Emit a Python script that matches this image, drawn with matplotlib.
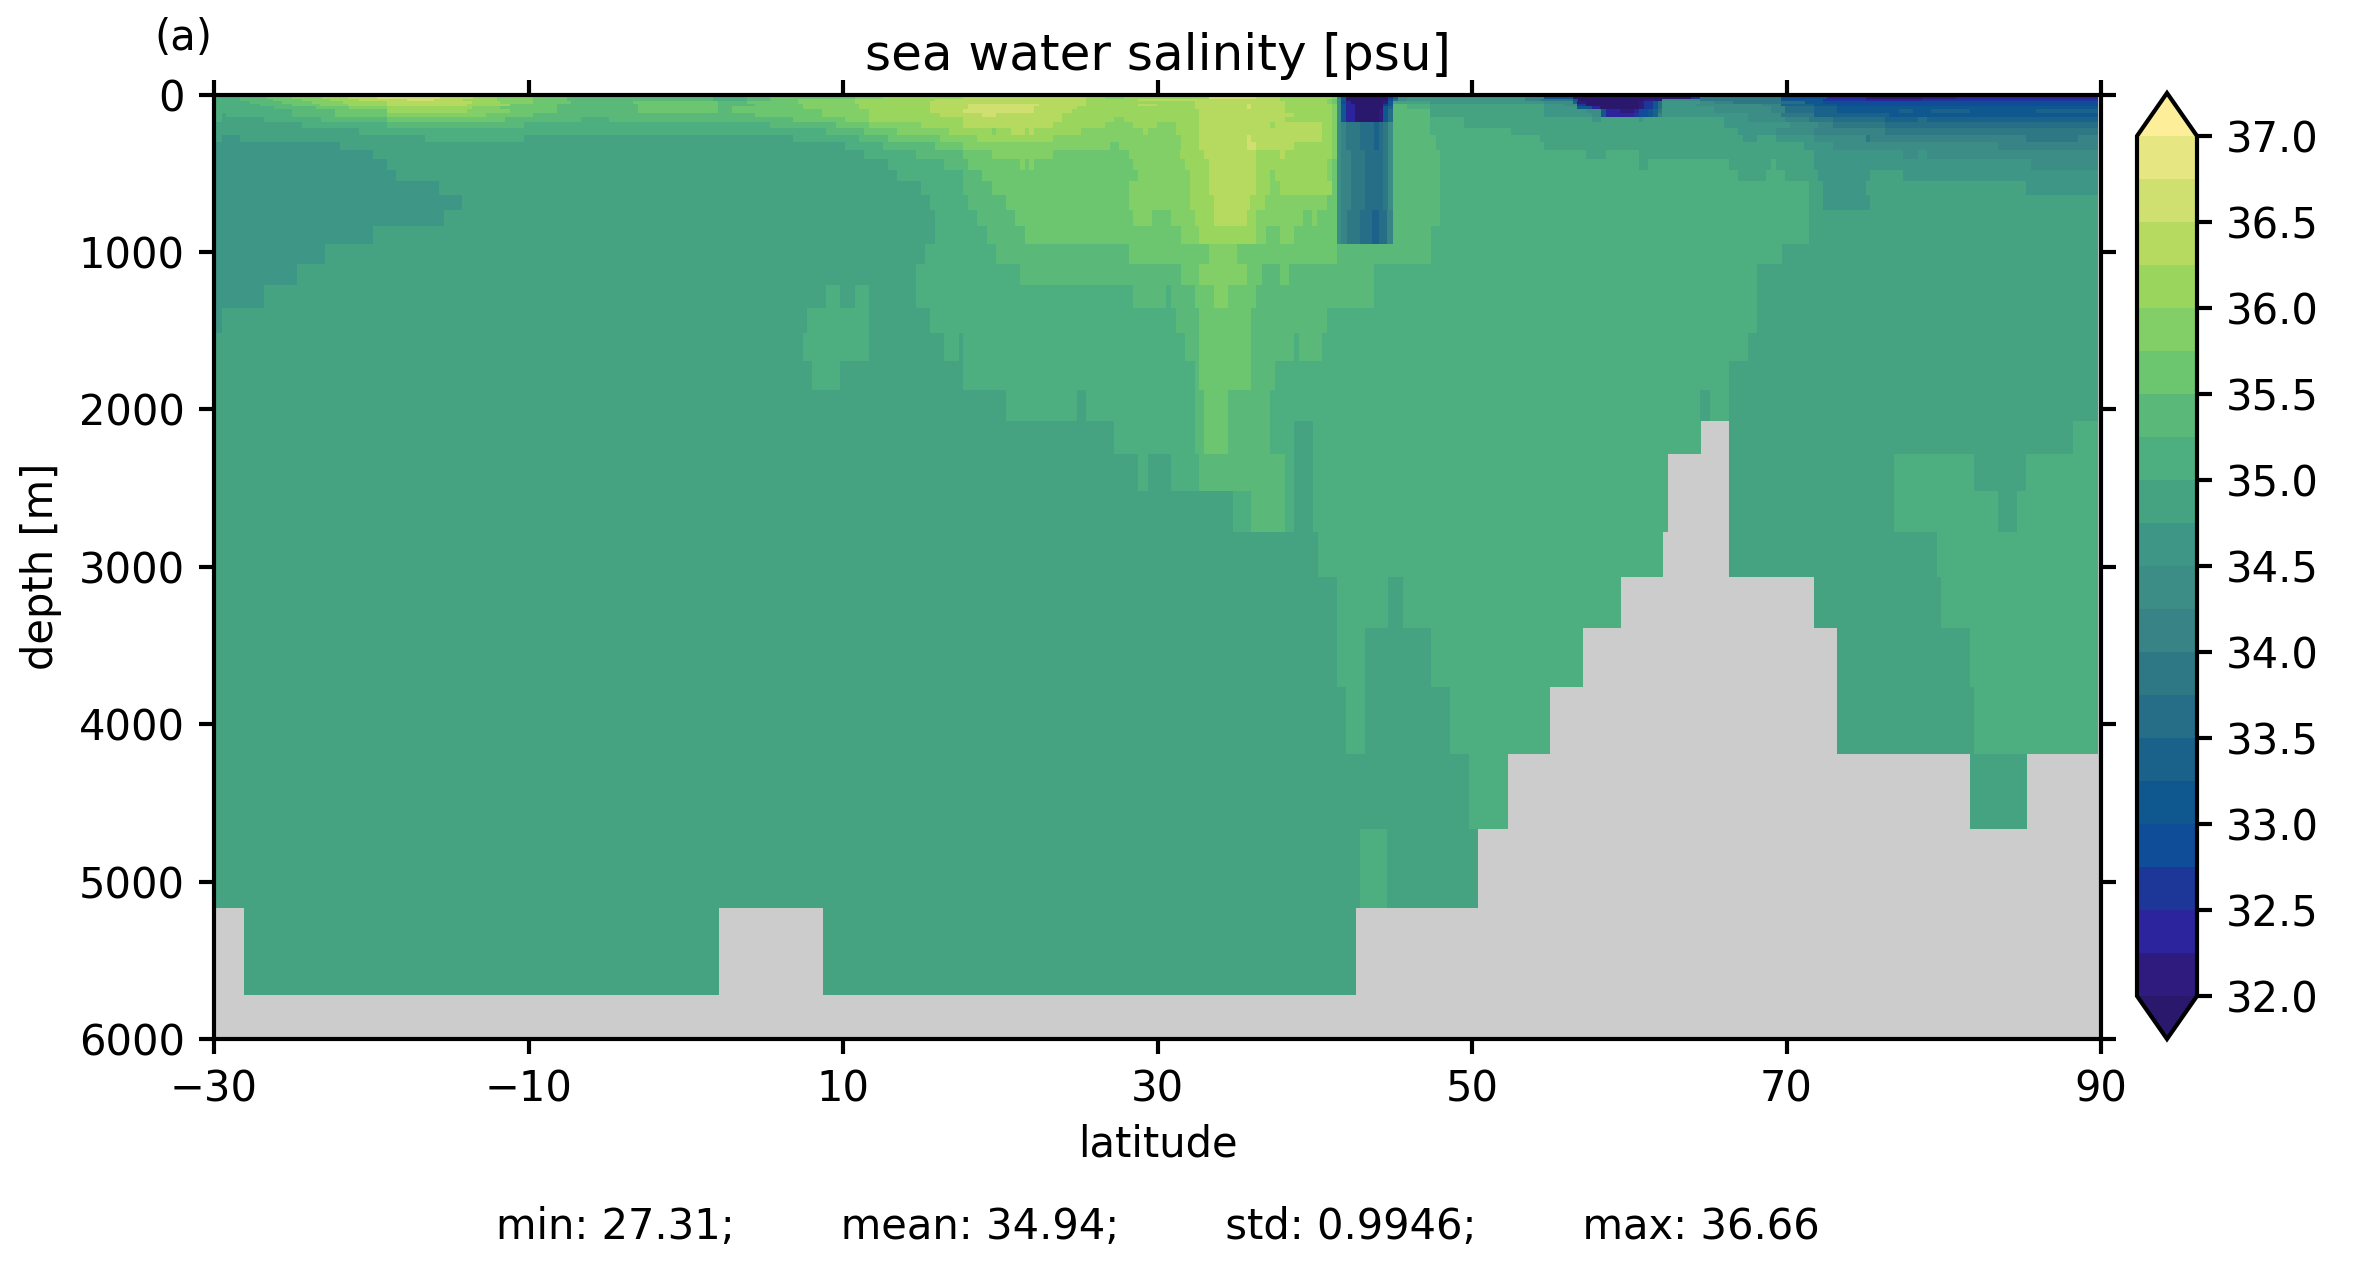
import numpy as np
import matplotlib
matplotlib.use('Agg')
import matplotlib.pyplot as plt
from matplotlib.colors import ListedColormap, BoundaryNorm

nan = float('nan')

# salinity classes of the colour bar, 0.25 psu wide
sal_levels = [32.0, 32.25, 32.5, 32.75, 33.0, 33.25, 33.5, 33.75, 34.0, 34.25, 34.5,
              34.75, 35.0, 35.25, 35.5, 35.75, 36.0, 36.25, 36.5, 36.75, 37.0]
sal_ticks = [32.0, 32.5, 33.0, 33.5, 34.0, 34.5, 35.0, 35.5, 36.0, 36.5, 37.0]
sal_colors = ['#2e1b7d', '#2b249c', '#1c3798', '#0f4d98', '#0f588f', '#1b628b',
              '#266d87', '#2e7886', '#388385', '#3c8d85', '#3e9686', '#45a382',
              '#4daf7f', '#5ab879', '#6cc670', '#81cf66', '#9ad65e', '#b6da60',
              '#d0e070', '#e6e682']
under_color = '#2a186c'
over_color = '#fdee99'
land_color = '#cccccc'

lat_ticks = [-30, -10, 10, 30, 50, 70, 90]
depth_ticks = [0, 1000, 2000, 3000, 4000, 5000, 6000]

# depth levels [m], edges of the rows below
depth_edges = [0, 26, 43, 60, 73, 90, 115, 143, 175, 211, 257, 302, 352, 410, 480, 549, 638,
               734, 833, 947, 1074, 1210, 1356, 1513, 1693, 1877, 2073, 2283, 2518, 2778,
               3064, 3388, 3763, 4188, 4665, 5165, 5722, 6000]

# fresh column near 43N, (latitude where the run ends, salinity)
col_top = [(41.66, 34.3), (41.96, 33.0), (42.55, 32.4), (43.51, 31.8), (44.08, 31.6),
           (44.36, 32.2), (44.67, 33.0), (44.95, 33.5)]
col_upper = [(41.66, 34.4), (41.96, 34.1), (42.89, 33.9), (43.76, 33.6), (44.08, 33.4),
             (44.36, 33.6), (44.67, 33.9), (44.95, 34.4)]
col_mid = [(41.66, 34.4), (42.3, 34.1), (43.19, 33.9), (44.36, 33.6), (44.67, 33.9), (44.95, 34.4)]
col_lower = [(41.66, 34.4), (42.04, 34.1), (42.85, 33.9), (43.67, 33.6), (44.06, 33.4),
             (44.57, 33.6), (44.95, 34.1)]

# each row: runs of (latitude where the run ends, salinity), nan = land
surface_rows = [
    [(-28.34, 35.1), (-26.65, 35.4), (-25.06, 35.6), (-23.15, 35.9), (-21.45, 36.1), (-19.65, 36.4),
     (-15.63, 36.6), (-13.5, 36.4), (-12.02, 36.1), (-9.69, 35.9), (-7.57, 35.6), (1.75, 35.4),
     (3.87, 35.1), (5.36, 35.4), (10.76, 35.6), (12.56, 35.9), (17.65, 36.1), (25.45, 36.4),
     (26.66, 36.1), (27.87, 35.9), (33.27, 36.1), (36.26, 36.6), (37.78, 36.4), (41.09, 36.1),
     (41.39, 35.9), (41.66, 34.1), (41.96, 33.1), (44.67, 31.5), (44.95, 32.6), (45.27, 33.4),
     (45.84, 34.3), (53.36, 34.6), (54.57, 34.1), (56.44, 33.1), (63.92, 31.5), (64.49, 32.6),
     (69.64, 33.9), (72.55, 32.9), (75.05, 32.4), (78.6, 31.9), (80.81, 32.2), (89.82, 32.4), (90, nan)],
    [(-28.34, 35.1), (-26.22, 35.4), (-24.42, 35.6), (-22.62, 35.9), (-20.78, 36.1), (-17.75, 36.4),
     (-16.01, 36.6), (-14.14, 36.4), (-12.02, 36.1), (-9.69, 35.9), (-7.57, 35.6), (1.75, 35.4),
     (3.87, 35.1), (5.44, 35.4), (7.16, 35.6), (10.76, 35.9), (15.85, 36.1), (25.45, 36.4),
     (28.78, 36.1), (37.78, 36.4), (40.79, 36.1), (41.09, 35.9), (41.39, 35.6), (41.66, 34.4),
     (41.96, 33.1), (44.67, 31.5), (44.95, 32.9), (45.27, 33.6), (45.84, 34.4), (53.36, 34.6),
     (54.4, 34.1), (56.44, 33.9), (56.74, 33.0), (60.89, 31.5), (62.06, 32.2), (64.49, 34.3),
     (69.64, 33.9), (72.33, 33.1), (75.05, 32.6), (78.6, 32.3), (89.82, 32.6), (90, nan)],
    [(-27.71, 35.1), (-25.69, 35.4), (-23.79, 35.6), (-21.77, 35.9), (-19.02, 36.1), (-13.61, 36.4),
     (-11.81, 36.1), (-9.69, 35.9), (-7.3, 35.6), (-3.33, 35.4), (2.07, 35.6), (3.87, 35.4),
     (7.16, 35.6), (10.76, 35.9), (15.53, 36.1), (25.45, 36.4), (32.38, 36.1), (38.1, 36.4),
     (40.79, 36.1), (41.09, 35.9), (41.39, 35.6), (41.66, 34.4), (41.96, 32.9), (42.3, 32.4),
     (44.36, 31.5), (44.67, 32.2), (44.95, 33.1), (47.36, 34.9), (54.57, 34.6), (56.44, 34.3),
     (56.69, 33.4), (57.28, 32.2), (60.64, 31.5), (60.95, 32.1), (61.53, 32.6), (61.84, 33.1),
     (62.06, 33.6), (64.49, 34.6), (65.38, 34.3), (66.6, 34.1), (69.64, 33.9), (71.17, 33.6),
     (72.33, 33.1), (89.82, 32.9), (90, nan)],
    [(-27.07, 35.1), (-25.06, 35.4), (-23.26, 35.6), (-21.45, 35.9), (-19.02, 36.1), (-13.93, 36.4),
     (-11.17, 36.1), (-8.21, 35.6), (-3.06, 35.4), (2.07, 35.6), (4.4, 35.4), (7.48, 35.6),
     (11.04, 35.9), (15.53, 36.1), (17.95, 36.4), (22.46, 36.6), (25.45, 36.4), (28.78, 36.1),
     (29.96, 36.4), (32.38, 36.1), (35.69, 36.4), (35.94, 36.6), (38.1, 36.4), (41.09, 36.1),
     (41.39, 35.9), (41.66, 34.3), (41.96, 33.0), (42.55, 32.4), (44.36, 31.5), (44.67, 32.6),
     (44.95, 33.1), (45.84, 35.4), (47.36, 35.1), (54.57, 34.9), (55.85, 34.6), (56.69, 34.3),
     (57.28, 32.6), (60.64, 31.5), (60.95, 32.1), (61.53, 32.6), (61.84, 33.1), (62.06, 33.6),
     (64.24, 34.6), (66.02, 34.4), (68.46, 34.3), (69.64, 34.1), (71.74, 33.4), (73.23, 33.1),
     (89.82, 32.9), (90, nan)],
    [(-26.18, 35.1), (-23.51, 35.4), (-21.41, 35.6), (-19.02, 35.9), (-13.61, 36.1), (-11.81, 35.9),
     (-8.21, 35.6), (-3.06, 35.4), (2.07, 35.6), (2.92, 35.4), (7.48, 35.6), (11.04, 35.9),
     (15.53, 36.1), (17.95, 36.4), (22.14, 36.6), (24.86, 36.4), (32.38, 36.1), (35.69, 36.4),
     (35.94, 36.6), (38.1, 36.4), (41.09, 36.1), (41.39, 35.9), (41.66, 34.3), (41.96, 33.0),
     (42.55, 32.4), (42.91, 31.8), (44.36, 31.6), (44.67, 33.0), (44.95, 33.3), (45.84, 35.4),
     (47.36, 35.1), (54.57, 34.9), (56.69, 34.6), (57.6, 33.0), (58.15, 32.3), (60.64, 31.5),
     (60.95, 32.1), (61.53, 32.6), (61.84, 33.1), (62.06, 33.6), (65.38, 34.6), (68.46, 34.4),
     (69.03, 34.3), (69.9, 34.1), (71.74, 33.6), (73.23, 33.4), (89.82, 33.1), (90, nan)],
    [(-25.06, 35.1), (-22.3, 35.4), (-18.97, 35.6), (-13.93, 36.1), (-11.17, 35.9), (-8.21, 35.6),
     (-3.06, 35.4), (2.07, 35.6), (2.92, 35.4), (8.64, 35.6), (11.67, 35.9), (15.53, 36.1),
     (17.65, 36.4), (22.14, 36.6), (24.54, 36.4), (32.66, 36.1), (38.1, 36.4), (41.09, 36.1),
     (41.39, 35.9)] + col_top +
    [(47.36, 35.4), (54.57, 34.9), (57.28, 34.6), (58.2, 34.3), (58.51, 33.1), (59.41, 32.4),
     (60.3, 32.1), (60.64, 32.4), (61.2, 32.8), (61.53, 33.1), (61.84, 33.4), (62.06, 33.9),
     (65.38, 34.6), (68.46, 34.4), (69.03, 34.3), (69.9, 34.1), (71.74, 33.6), (73.23, 33.4),
     (77.17, 33.1), (78.02, 33.4), (79.22, 33.1), (81.66, 33.4), (85.86, 33.1), (89.82, 33.4), (90, nan)],
    [(-29.47, 35.1), (-29.23, 34.9), (-25.06, 35.1), (-22.3, 35.4), (-18.97, 35.6), (-12.7, 35.9),
     (-9.69, 35.6), (4.4, 35.4), (8.64, 35.6), (11.67, 35.9), (16.17, 36.1), (18.84, 36.4),
     (19.73, 36.6), (23.95, 36.4), (32.66, 36.1), (38.67, 36.4), (41.09, 36.1), (41.39, 35.9)] + col_top +
    [(47.36, 35.4), (54.57, 34.9), (57.6, 34.6), (58.2, 34.3), (58.51, 33.1), (59.41, 32.4),
     (60.3, 32.3), (60.64, 32.6), (61.2, 32.8), (61.53, 33.1), (61.84, 33.4), (62.06, 34.1),
     (67.57, 34.6), (69.03, 34.4), (69.64, 34.3), (71.74, 33.9), (76.53, 33.4), (89.82, 33.1), (90, nan)],
    [(-29.47, 35.1), (-26.82, 34.9), (-23.19, 35.1), (-18.97, 35.4), (-11.49, 35.6), (-6.66, 35.4),
     (-4.88, 35.1), (6.82, 35.4), (10.13, 35.6), (11.67, 35.9), (17.65, 36.1), (23.95, 36.4),
     (27.23, 36.1), (27.87, 35.9), (32.66, 36.1), (38.1, 36.4), (41.09, 36.1), (41.39, 35.9)] + col_top +
    [(47.36, 35.4), (49.48, 35.1), (57.6, 34.9), (58.2, 34.6), (60.64, 34.9), (60.89, 34.6),
     (66.02, 34.9), (67.57, 34.6), (69.9, 34.4), (71.45, 34.1), (72.97, 33.9), (76.26, 33.6),
     (78.38, 33.4), (78.95, 33.6), (89.82, 33.4), (90, nan)],
]

thermocline_rows = [
    [(-24.42, 34.9), (-18.97, 35.1), (-10.28, 35.4), (5.36, 35.1), (9.55, 35.4), (11.67, 35.6),
     (14.96, 35.9), (17.65, 36.1), (23.37, 36.4), (26.66, 36.1), (28.46, 35.9), (29.96, 36.1),
     (31.17, 35.9), (32.66, 36.1), (37.15, 36.4), (37.47, 36.1), (40.48, 36.4), (41.09, 36.1),
     (41.39, 35.9)] + col_upper +
    [(47.36, 35.4), (49.48, 35.1), (66.02, 34.9), (70.22, 34.6), (72.02, 34.4), (72.97, 34.1),
     (76.26, 33.9), (89.82, 33.6), (90, nan)],
    [(-20.78, 34.9), (8.92, 35.1), (11.33, 35.4), (13.41, 35.6), (16.76, 35.9), (19.47, 36.1),
     (19.73, 35.9), (20.68, 36.1), (21.57, 36.4), (21.85, 36.1), (22.14, 36.4), (25.11, 36.1),
     (29.05, 35.9), (29.41, 36.1), (31.17, 35.9), (32.66, 36.1), (40.48, 36.4), (41.09, 36.1),
     (41.39, 35.9)] + col_upper +
    [(47.36, 35.4), (52.45, 35.1), (66.93, 34.9), (69.33, 34.6), (71.74, 34.4), (76.26, 34.1),
     (89.82, 33.9), (90, nan)],
    [(-29.47, 34.9), (-28.34, 34.6), (-16.58, 34.9), (-10.28, 35.1), (6.82, 34.9), (11.04, 35.1),
     (12.86, 35.4), (16.17, 35.6), (18.5, 35.9), (23.37, 36.1), (31.47, 35.9), (32.66, 36.1),
     (35.69, 36.4), (35.94, 36.6), (40.48, 36.4), (41.09, 36.1), (41.39, 35.9)] + col_upper +
    [(47.68, 35.4), (54.32, 35.1), (67.25, 34.9), (68.12, 34.6), (69.33, 34.9), (71.74, 34.6),
     (75.05, 34.4), (75.3, 33.9), (85.22, 34.1), (88.55, 33.9), (89.82, 34.1), (90, nan)],
    [(-21.98, 34.6), (10.13, 34.9), (12.56, 35.1), (15.85, 35.4), (17.65, 35.6), (26.98, 35.9),
     (27.55, 35.6), (31.47, 35.9), (32.66, 36.1), (35.69, 36.4), (36.26, 36.6), (38.67, 36.4),
     (41.09, 36.1), (41.39, 35.9)] + col_upper +
    [(47.68, 35.4), (54.57, 35.1), (71.1, 34.9), (72.97, 34.6), (83.46, 34.4), (89.82, 34.1), (90, nan)],
    [(-19.86, 34.6), (11.33, 34.9), (14.64, 35.1), (17.65, 35.4), (19.47, 35.6), (23.37, 35.9),
     (28.18, 35.6), (31.43, 35.9), (32.97, 36.1), (36.26, 36.4), (37.78, 36.1), (38.1, 36.4),
     (41.09, 36.1), (41.39, 35.9)] + col_mid +
    [(47.96, 35.4), (57.28, 35.1), (58.51, 34.9), (60.64, 35.1), (71.74, 34.9), (77.42, 34.6),
     (78.38, 34.4), (78.95, 34.6), (89.82, 34.4), (90, nan)],
    [(-18.97, 34.6), (12.86, 34.9), (16.42, 35.1), (17.95, 35.4), (21.25, 35.6), (21.57, 35.9),
     (21.85, 35.6), (22.14, 35.9), (28.46, 35.6), (31.74, 35.9), (33.27, 36.1), (36.26, 36.4),
     (40.79, 36.1), (41.09, 35.9), (41.39, 35.6)] + col_mid +
    [(47.96, 35.4), (60.64, 35.1), (61.2, 34.9), (66.34, 35.1), (69.03, 34.9), (69.33, 35.1),
     (71.74, 34.9), (85.52, 34.6), (89.82, 34.4), (90, nan)],
    [(-18.42, 34.6), (13.41, 34.9), (17.65, 35.1), (18.84, 35.4), (28.78, 35.6), (32.06, 35.9),
     (33.27, 36.1), (36.26, 36.4), (37.15, 36.1), (37.47, 35.9), (40.79, 36.1), (41.09, 35.9),
     (41.39, 35.6)] + col_mid +
    [(47.96, 35.4), (66.93, 35.1), (68.69, 34.9), (69.9, 35.1), (71.99, 34.9), (75.3, 34.6),
     (77.42, 34.9), (89.82, 34.6), (90, nan)],
    [(-15.69, 34.6), (14.96, 34.9), (17.65, 35.1), (19.47, 35.4), (28.18, 35.6), (32.06, 35.9),
     (33.27, 36.1), (36.26, 36.4), (37.15, 36.1), (37.78, 35.9), (41.09, 36.1), (41.39, 35.6)] + col_mid +
    [(47.96, 35.4), (71.45, 35.1), (72.33, 34.9), (75.05, 34.6), (85.22, 34.9), (89.82, 34.6), (90, nan)],
    [(-14.21, 34.6), (15.54, 34.9), (17.94, 35.1), (20.37, 35.4), (28.19, 35.6), (32.05, 35.9),
     (33.61, 36.1), (35.88, 36.4), (36.85, 36.1), (40.75, 35.9), (41.39, 35.6)] + col_mid +
    [(47.95, 35.4), (71.44, 35.1), (72.33, 34.9), (75.3, 34.6), (89.82, 34.9), (90, nan)],
    [(-15.38, 34.6), (15.87, 34.9), (18.53, 35.1), (20.92, 35.4), (28.45, 35.6), (29.65, 35.9),
     (30.85, 35.6), (32.37, 35.9), (33.61, 36.1), (35.68, 36.4), (36.27, 36.1), (39.25, 35.9),
     (39.84, 35.6), (40.16, 35.9), (41.39, 35.6)] + col_lower +
    [(47.95, 35.4), (71.44, 35.1), (89.82, 34.9), (90, nan)],
    [(-19.89, 34.6), (15.87, 34.9), (19.17, 35.1), (21.6, 35.4), (31.5, 35.6), (32.63, 35.9),
     (36.27, 36.1), (36.89, 35.9), (37.79, 35.6), (38.7, 35.9), (41.39, 35.6)] + col_lower +
    [(47.4, 35.4), (71.44, 35.1), (89.82, 34.9), (90, nan)],
]

deep_rows = [
    [(-22.94, 34.6), (15.22, 34.9), (19.73, 35.1), (28.19, 35.4), (33.28, 35.6), (35.07, 35.9),
     (41.43, 35.6), (47.4, 35.4), (69.69, 35.1), (89.82, 34.9), (90, nan)],
    [(-24.73, 34.6), (14.63, 34.9), (21.28, 35.1), (31.5, 35.4), (32.63, 35.6), (35.68, 35.9),
     (36.62, 35.6), (37.79, 35.4), (38.34, 35.6), (43.76, 35.4), (68.13, 35.1), (89.82, 34.9), (90, nan)],
    [(-26.83, 34.6), (8.92, 34.9), (9.81, 35.1), (10.77, 34.9), (11.66, 35.1), (14.65, 34.9),
     (28.45, 35.1), (30.53, 35.4), (30.85, 35.1), (32.37, 35.4), (33.58, 35.6), (34.48, 35.9),
     (36.27, 35.6), (43.76, 35.4), (68.13, 35.1), (89.82, 34.9), (90, nan)],
    [(-29.5, 34.6), (7.72, 34.9), (11.66, 35.1), (15.54, 34.9), (31.18, 35.1), (32.64, 35.4),
     (35.95, 35.6), (40.78, 35.4), (68.13, 35.1), (89.82, 34.9), (90, nan)],
    [(7.46, 34.9), (11.66, 35.1), (16.43, 34.9), (17.38, 35.1), (17.63, 34.9), (31.75, 35.1),
     (32.64, 35.4), (35.95, 35.6), (38.68, 35.4), (39.0, 35.1), (40.45, 35.4), (67.55, 35.1),
     (89.82, 34.9), (90, nan)],
    [(8.03, 34.9), (9.81, 35.1), (17.63, 34.9), (32.39, 35.1), (32.64, 35.4), (35.95, 35.6),
     (37.47, 35.4), (66.32, 35.1), (89.82, 34.9), (90, nan)],
    [(20.37, 34.9), (24.88, 35.1), (25.46, 34.9), (32.39, 35.1), (32.96, 35.4), (34.49, 35.6),
     (37.15, 35.4), (64.5, 35.1), (65.14, 34.9), (66.32, 35.1), (89.82, 34.9), (90, nan)],
    [(27.24, 34.9), (32.37, 35.1), (32.96, 35.4), (34.48, 35.6), (37.14, 35.4), (38.66, 35.1),
     (39.88, 34.9), (64.55, 35.1), (66.32, nan), (88.25, 34.9), (89.82, 35.1), (90, nan)],
    [(28.74, 34.9), (29.38, 35.1), (30.85, 34.9), (32.62, 35.1), (38.1, 35.4), (38.66, 35.1),
     (39.88, 34.9), (62.44, 35.1), (66.32, nan), (76.83, 34.9), (81.93, 35.1), (85.22, 34.9),
     (89.82, 35.1), (90, nan)],
    [(34.82, 34.9), (35.96, 35.1), (38.1, 35.4), (38.66, 35.1), (39.88, 34.9), (62.44, 35.1),
     (66.32, nan), (76.83, 34.9), (83.45, 35.1), (84.67, 34.9), (89.82, 35.1), (90, nan)],
    [(40.2, 34.9), (62.15, 35.1), (66.32, nan), (79.57, 34.9), (89.82, 35.1), (90, nan)],
    [(41.4, 34.9), (44.64, 35.1), (45.6, 34.9), (59.49, 35.1), (71.72, nan), (79.82, 34.9),
     (89.82, 35.1), (90, nan)],
    [(41.4, 34.9), (43.2, 35.1), (47.39, 34.9), (57.04, 35.1), (73.2, nan), (81.67, 34.9),
     (89.82, 35.1), (90, nan)],
    [(41.99, 34.9), (43.2, 35.1), (48.6, 34.9), (54.93, 35.1), (73.2, nan), (81.93, 34.9),
     (89.82, 35.1), (90, nan)],
    [(49.79, 34.9), (52.28, 35.1), (81.67, nan), (85.3, 34.9), (90, nan)],
    [(42.87, 34.9), (44.6, 35.1), (50.4, 34.9), (90, nan)],
    [(-28.1, nan), (2.09, 34.9), (8.7, nan), (42.6, 34.9), (90, nan)],
    [(90, nan)],
]

stats_line = 'min: 27.31;        mean: 34.94;        std: 0.9946;        max: 36.66'

plt.rcParams['font.family'] = 'DejaVu Sans'
plt.rcParams['axes.linewidth'] = 1.0

W, H = 2362, 1263
fig = plt.figure(figsize=(W / 300, H / 300), dpi=300)
ax = fig.add_axes([214 / W, 1 - 1039 / H, (2101 - 214) / W, (1039 - 94.5) / H])
ax.set_facecolor(land_color)

cmap = ListedColormap(sal_colors).with_extremes(under=under_color, over=over_color, bad=land_color)
norm = BoundaryNorm(sal_levels, cmap.N)

all_rows = surface_rows + thermocline_rows + deep_rows
mesh = None
for i, row in enumerate(all_rows):
    ends = [r[0] for r in row]
    vals = [r[1] for r in row]
    edges = [-30] + ends
    z = np.ma.masked_invalid(np.array([vals]))
    mesh = ax.pcolormesh(edges, depth_edges[i:i + 2], z, cmap=cmap, norm=norm, rasterized=True)

ax.set_xlim(-30, 90)
ax.set_ylim(6000, 0)
ax.set_xticks(lat_ticks)
ax.set_yticks(depth_ticks)
ax.tick_params(top=True, right=True, labelsize=10, length=3.5, width=1.0, pad=3.5)
ax.set_xlabel('latitude', fontsize=10, labelpad=3.3)
ax.set_ylabel('depth [m]', fontsize=10, labelpad=4)
ax.set_title('sea water salinity [psu]', fontsize=12, pad=6)

fig.text(183.7 / W, 1 - 38 / H, '(a)', fontsize=10, ha='center', va='center')
fig.text(1157.5 / W, 1 - 1227 / H, stats_line, fontsize=10, ha='center', va='center')

cax = fig.add_axes([2137 / W, 1 - 1039 / H, 60 / W, (1039 - 93) / H])
cbar = fig.colorbar(mesh, cax=cax, extend='both', ticks=sal_ticks, spacing='proportional')
cbar.ax.minorticks_off()
cbar.ax.set_yticklabels(['%.1f' % t for t in sal_ticks])
cbar.ax.tick_params(labelsize=10, length=3.5, width=1.0, pad=3.5)
cbar.outline.set_linewidth(1.0)

fig.savefig('out.png', dpi=300)
